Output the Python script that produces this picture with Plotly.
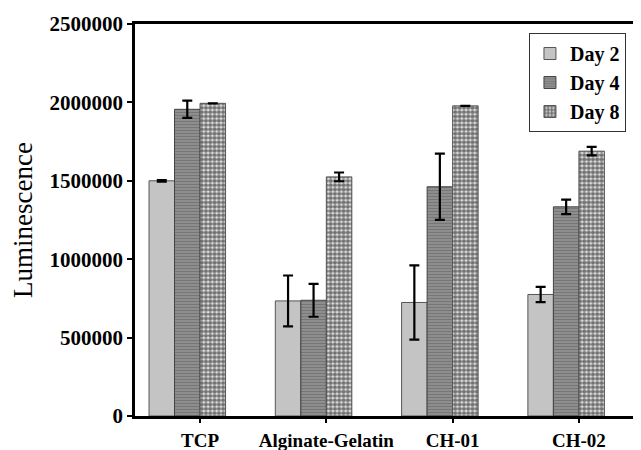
import plotly.graph_objects as go

categories = ["TCP", "Alginate-Gelatin", "CH-01", "CH-02"]
series_names = ["Day 2", "Day 4", "Day 8"]
day2 = [1500000, 734000, 724000, 775000]
day2_err = [5000, 162000, 237000, 49000]
day4 = [1956000, 738000, 1462000, 1334000]
day4_err = [55000, 105000, 211000, 46000]
day8 = [1994000, 1525000, 1978000, 1689000]
day8_err = [None, 28000, None, 27000]
y_ticks = [0, 500000, 1000000, 1500000, 2000000, 2500000]

xpos = list(range(len(categories)))
font_b = "Liberation Serif"

styles = [
    dict(color="#c4c4c4", pattern=None, line="#555555"),
    dict(color="#858585", pattern=dict(shape="-", fgcolor="#5e5e5e", bgcolor="#8e8e8e", size=3, solidity=0.35), line="#444444"),
    dict(color="#e0e0e0", pattern=dict(shape=".", fgcolor="#000000", bgcolor="#e4e4e4", size=4.3, solidity=0.7), line="#555555"),
]
vals = [day2, day4, day8]
errs = [day2_err, day4_err, day8_err]
offsets = [-0.404, -0.202, 0.0]

fig = go.Figure()
for name, v, e, st, off in zip(series_names, vals, errs, styles, offsets):
    marker = dict(color=st["color"], line=dict(color=st["line"], width=1))
    if st["pattern"]:
        marker["pattern"] = st["pattern"]
    fig.add_trace(go.Bar(
        x=xpos, y=v, name=name, width=0.202, offset=off,
        marker=marker,
        error_y=dict(type="data", array=e, visible=True, color="black", thickness=2.2, width=5),
    ))

# page body has an 8px default margin, so the figure is sized to fit the window
fig.update_layout(
    width=633, height=442,
    barmode="overlay",
    plot_bgcolor="white", paper_bgcolor="white",
    margin=dict(l=127, r=4, t=16, b=34),
    showlegend=True,
    legend=dict(x=0.978, y=0.977, xanchor="right", yanchor="top",
                bordercolor="#333333", borderwidth=1, bgcolor="white",
                font=dict(family=font_b, size=20, color="black", weight="bold"),
                tracegroupgap=0, itemwidth=30),
    xaxis=dict(
        tickmode="array", tickvals=xpos, ticktext=categories,
        range=[-0.515, 3.46], automargin=False,
        showline=True, linecolor="black", linewidth=2.5, mirror=True,
        ticks="outside", ticklen=4, tickwidth=2, tickcolor="black",
        showgrid=False, zeroline=False,
        ticklabelstandoff=1,
        tickfont=dict(family=font_b, size=19, color="black", weight="bold"),
    ),
    yaxis=dict(
        range=[0, 2500000], automargin=False,
        tickmode="array", tickvals=y_ticks, ticktext=[str(t) for t in y_ticks],
        showline=True, linecolor="black", linewidth=2.5, mirror=True,
        ticks="outside", ticklen=5, tickwidth=2, tickcolor="black",
        showgrid=False, zeroline=False,
        tickfont=dict(family=font_b, size=21, color="black", weight="bold"),
        title=dict(text="Luminescence", font=dict(family=font_b, size=27, color="black"), standoff=14),
    ),
)

fig.write_html("out.html")
